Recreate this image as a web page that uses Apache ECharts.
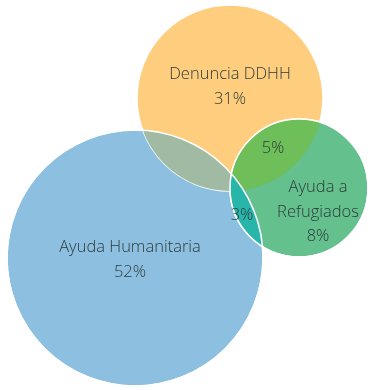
<!DOCTYPE html>
<html>
<head>
<meta charset="utf-8">
<script src="https://cdn.jsdelivr.net/npm/echarts@6/dist/echarts.min.js"></script>
<style>
html, body { margin: 0; background: #fff; }
#venn { width: 372px; height: 390px; }
</style>
</head>
<body>
<div id="venn"></div>
<script>
// sets: name, share, colour and circle (center x, center y, radius) in chart units
var setNames = ['Ayuda Humanitaria', 'Denuncia DDHH', 'Ayuda a\nRefugiados'];
var setShares = [52, 31, 8];
var setColors = ['#8dc0e0', '#fecd7d', '#64c08c'];
var setCircles = [[135, 258, 128], [230, 98, 93], [299, 188, 69]];
var setLabelSpots = [[130, 260], [230, 87], [318, 212]];

// overlaps between two sets
var pairSets = [[0, 1], [1, 2], [0, 2]];
var pairShares = [null, 5, 3];
var pairColors = ['#a0baa3', '#6ebe5a', '#28b6aa'];
var pairLabelSpots = [null, [273, 148], [242, 215]];

var textColor = '#2d3b3b';
var font = '"Open Sans", "Noto Sans", sans-serif';

var chart = echarts.init(document.getElementById('venn'));

function toPx(api, circle) {
    var c = api.coord([circle[0], circle[1]]);
    var r = Math.abs(api.size([circle[2], 0])[0]);
    return { x: c[0], y: c[1], r: r };
}

function circleItem(params, api) {
    var c = toPx(api, setCircles[params.dataIndex]);
    return {
        type: 'circle',
        shape: { cx: c.x, cy: c.y, r: c.r },
        style: { fill: setColors[params.dataIndex], stroke: '#fff', lineWidth: 1.5 }
    };
}

// lens shaped overlap of two circles, built from the two arcs
function lensItem(params, api) {
    var pair = pairSets[params.dataIndex];
    var a = toPx(api, setCircles[pair[0]]);
    var b = toPx(api, setCircles[pair[1]]);
    var dx = b.x - a.x, dy = b.y - a.y;
    var d = Math.sqrt(dx * dx + dy * dy);
    var ux = dx / d, uy = dy / d;
    var along = (a.r * a.r - b.r * b.r + d * d) / (2 * d);
    var h = Math.sqrt(a.r * a.r - along * along);
    var px = a.x + along * ux, py = a.y + along * uy;
    var p1 = [px - h * uy, py + h * ux];
    var p2 = [px + h * uy, py - h * ux];
    var path = 'M' + p1[0] + ' ' + p1[1] +
        ' A' + a.r + ' ' + a.r + ' 0 0 0 ' + p2[0] + ' ' + p2[1] +
        ' A' + b.r + ' ' + b.r + ' 0 0 0 ' + p1[0] + ' ' + p1[1] + ' Z';
    return {
        type: 'path',
        shape: { pathData: path },
        style: { fill: pairColors[params.dataIndex], stroke: null }
    };
}

function outlineItem(params, api) {
    var c = toPx(api, setCircles[params.dataIndex]);
    return {
        type: 'circle',
        shape: { cx: c.x, cy: c.y, r: c.r },
        style: { fill: null, stroke: params.dataIndex === 1 ? 'rgba(255,255,255,0)' : '#fff', lineWidth: 1.5 }
    };
}

function textItem(spot, text, api) {
    var p = api.coord(spot);
    return {
        type: 'text',
        x: p[0], y: p[1],
        style: {
            text: text, fill: textColor, font: '300 16.5px ' + font,
            align: 'center', verticalAlign: 'middle', lineHeight: 24.5
        }
    };
}

var option = {
    animation: false,
    grid: { left: 0, right: 0, top: 0, bottom: 0 },
    xAxis: { type: 'value', min: 0, max: 372, show: false },
    yAxis: { type: 'value', min: 0, max: 390, inverse: true, show: false },
    series: [
        { type: 'custom', silent: true, renderItem: circleItem, data: setCircles },
        { type: 'custom', silent: true, renderItem: lensItem, data: pairShares },
        { type: 'custom', silent: true, renderItem: outlineItem, data: setCircles },
        {
            type: 'custom', silent: true, data: setShares,
            renderItem: function (params, api) {
                var i = params.dataIndex;
                return textItem(setLabelSpots[i], setNames[i] + '\n' + setShares[i] + '%', api);
            }
        },
        {
            type: 'custom', silent: true, data: pairShares,
            renderItem: function (params, api) {
                var i = params.dataIndex;
                if (pairShares[i] == null) return null;
                return textItem(pairLabelSpots[i], pairShares[i] + '%', api);
            }
        }
    ]
};
chart.setOption(option);

window.addEventListener('resize', function () {
    chart.resize();
});
</script>
</body>
</html>
